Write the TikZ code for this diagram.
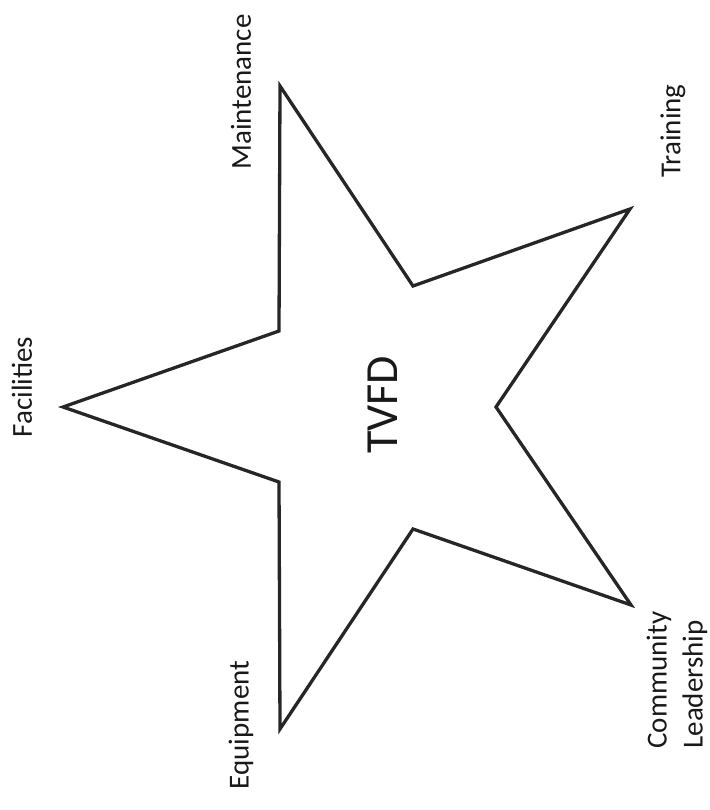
\documentclass[tikz,border=0pt]{standalone}
\usepackage{fontspec}
\setmainfont{Carlito}
\usetikzlibrary{positioning}

\tikzset{lbl/.style={rotate=90,font=\fontsize{29}{36}\selectfont,text=black!90}}

\begin{document}
\begin{tikzpicture}[x=1pt,y=-1pt]
  \useasboundingbox (0,0) rectangle (709,810);
  % star corners, outer and inner in turn
  \foreach \n/\x/\y in {o1/63/407, i1/279/331, o2/280/86, i2/413/286, o3/630/209,
                        i3/496/407, o4/631/605, i4/413/529, o5/280/729, i5/279/482}{
    \coordinate (\n) at (\x,\y);
  }
  \draw[line width=3.3pt,black!85] (o1)--(i1)--(o2)--(i2)--(o3)--(i3)--(o4)--(i4)--(o5)--(i5)--cycle;
  \node[lbl,font=\fontsize{46}{56}\selectfont] (tvfd) at (383,405){TVFD};
  \foreach \n/\x/\y/\t in {maint/241/92/Maintenance, train/673/131/Training,
                           facil/22/387/Facilities, equip/241/725/Equipment}{
    \node[lbl] (\n) at (\x,\y){\t};
  }
  \node[lbl,align=left] (comm) at (677,680){Community\\Leadership};
\end{tikzpicture}
\end{document}
